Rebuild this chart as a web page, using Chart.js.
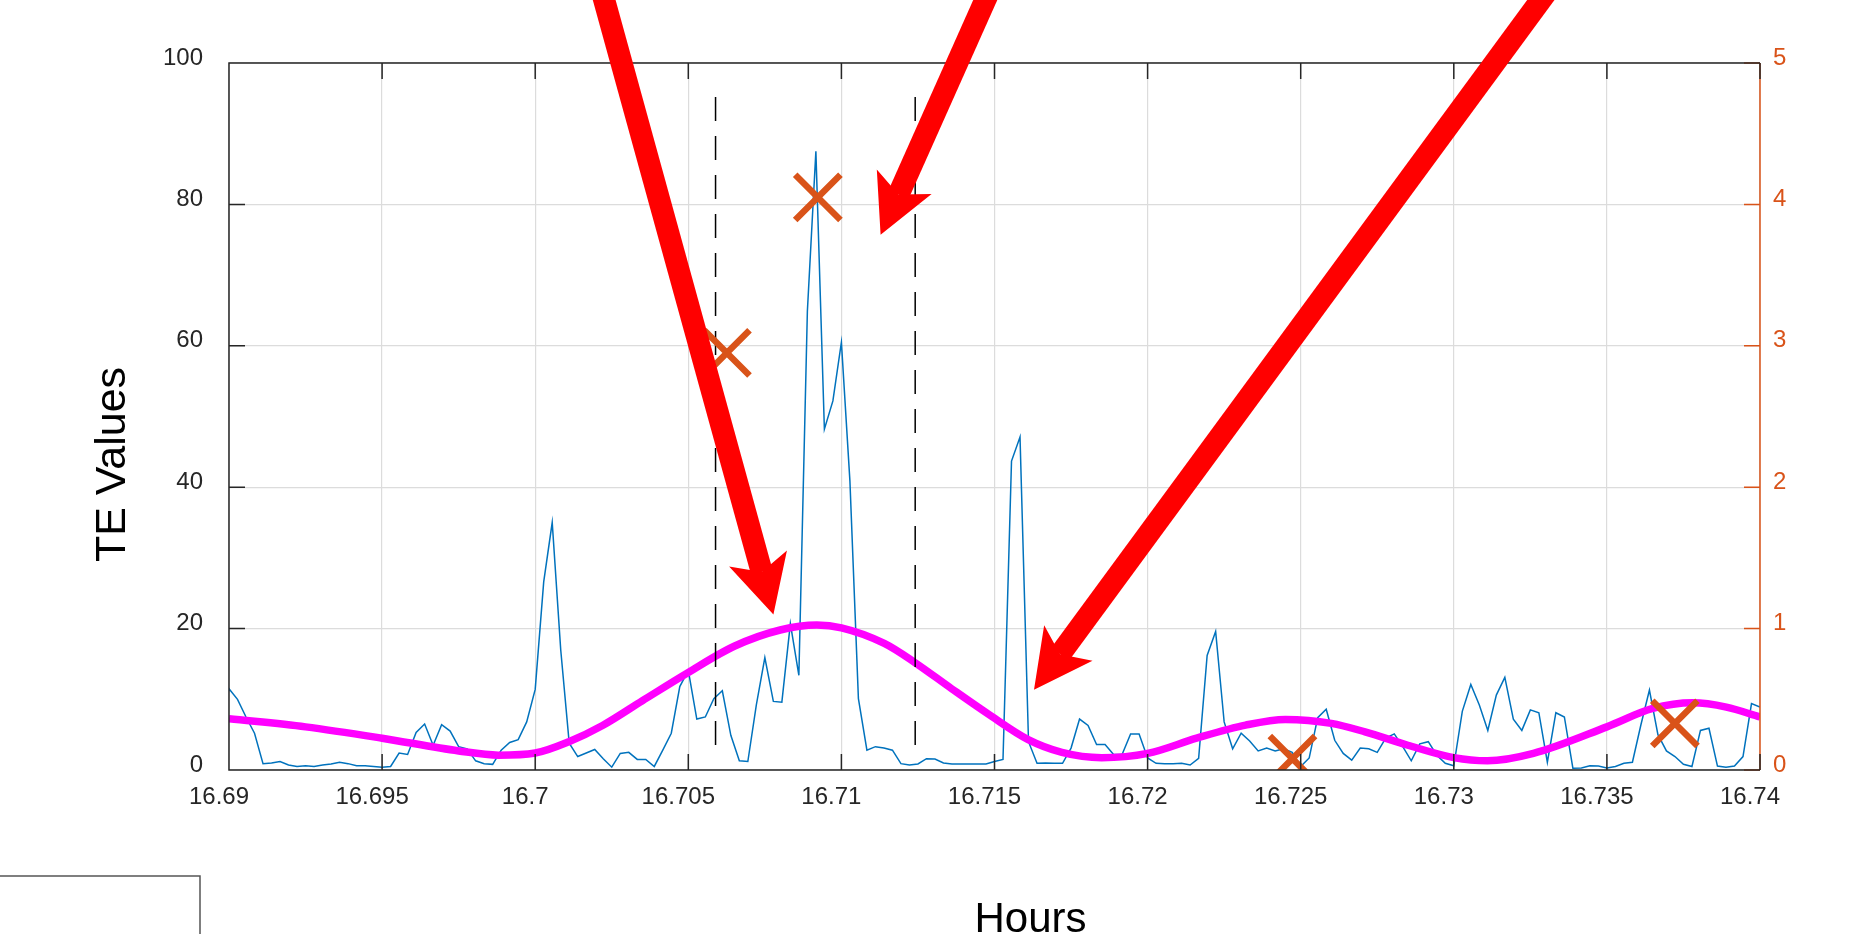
<!DOCTYPE html>
<html>
<head>
<meta charset="utf-8">
<script src="https://cdn.jsdelivr.net/npm/chart.js@4.4.1/dist/chart.umd.min.js"></script>
<style>
  html, body { margin: 0; padding: 0; background: #fff; }
</style>
</head>
<body>
<canvas id="js-te-chart" width="1866" height="934"></canvas>
<script>
// TE samples, one per second (first one sits just left of the axis)
const teStart = 16.69 - 1 / 3600;
const teStep = 1 / 3600;
const teValues = [5,
  11.5, 10.0, 7.5, 5.2, 0.9, 1.0, 1.2, 0.7, 0.5, 0.6,
  0.5, 0.7, 0.85, 1.1, 0.9, 0.6, 0.6, 0.5, 0.4, 0.5,
  2.4, 2.2, 5.3, 6.5, 3.5, 6.4, 5.5, 3.3, 3.0, 1.3,
  0.9, 0.8, 2.8, 3.9, 4.3, 6.8, 11.4, 26.6, 35.0, 17.0,
  3.8, 1.9, 2.4, 2.9, 1.6, 0.4, 2.35, 2.5, 1.5, 1.5,
  0.5, 2.8, 5.2, 11.8, 14.1, 7.2, 7.5, 10.1, 11.2, 4.9,
  1.3, 1.2, 9.2, 15.9, 9.7, 9.6, 20.7, 13.4, 64.9, 87.5,
  48.2, 52.2, 60.5, 40.9, 10.1, 2.8, 3.3, 3.1, 2.8, 0.9,
  0.7, 0.85, 1.6, 1.55, 1.0, 0.85, 0.85, 0.85, 0.85, 0.85,
  1.2, 1.5, 43.7, 47.1, 4.0, 0.95, 1.0, 0.95, 0.95, 3.1,
  7.2, 6.3, 3.6, 3.6, 2.2, 2.2, 5.1, 5.1, 1.7, 0.95,
  0.9, 0.9, 0.95, 0.7, 1.65, 16.2, 19.6, 6.8, 3.0, 5.2,
  4.1, 2.7, 3.1, 2.7, 3.0, 2.5, 0.5, 1.7, 7.4, 8.6,
  4.2, 2.35, 1.4, 3.1, 3.0, 2.5, 4.5, 5.1, 3.3, 1.3,
  3.7, 4.0, 2.1, 0.95, 0.6, 8.3, 12.1, 9.2, 5.6, 10.6,
  13.1, 7.2, 5.6, 8.5, 8.1, 1.1, 8.1, 7.5, 0.25, 0.3,
  0.6, 0.55, 0.3, 0.5, 0.95, 1.1, 6.4, 11.3, 5.0, 2.7,
  1.9, 0.8, 0.5, 5.6, 5.9, 0.55, 0.4, 0.55, 1.9, 9.4,
  8.9];

// smooth fitted curve (TE units)
const fitHours = [16.69, 16.6925, 16.695, 16.6975, 16.6988, 16.70, 16.7011, 16.7022,
  16.7035, 16.705, 16.7065, 16.708, 16.7092, 16.71, 16.7114, 16.7124, 16.7136,
  16.7148, 16.7161, 16.7172, 16.7185, 16.72, 16.7216, 16.7232, 16.7245, 16.726,
  16.7271, 16.7285, 16.73, 16.7311, 16.7326, 16.735, 16.7365, 16.7378, 16.7389, 16.74];
const fitValues = [7.25, 6.1, 4.5, 2.7, 2.1, 2.4, 4.0, 6.3,
  9.8, 13.8, 17.5, 19.8, 20.5, 20.1, 17.9, 15.2, 11.5,
  7.9, 4.3, 2.5, 1.75, 2.35, 4.5, 6.35, 7.15, 6.6,
  5.4, 3.5, 1.75, 1.3, 2.35, 6.1, 8.7, 9.5, 8.9, 7.5];

// marked events (right axis)
const eventHours = [16.70626, 16.70923, 16.72473, 16.73722];
const eventValues = [2.95, 4.05, 0.08, 0.33];

// dashed window bounds
const windowHours = [16.70589, 16.71241];
const windowRange = [95.2, 3];

// annotation arrows, [hours, TE] for tail and tip
const arrowTails = [[16.70198, 113.2], [16.71514, 113.2], [16.73357, 113.2]];
const arrowTips = [[16.70778, 22.0], [16.71128, 75.7], [16.71629, 11.35]];

// axes
const xTicks = [16.69, 16.695, 16.70, 16.705, 16.71, 16.715, 16.72, 16.725, 16.73, 16.735, 16.74];
const xTickLabels = ['16.69', '16.695', '16.7', '16.705', '16.71', '16.715', '16.72', '16.725', '16.73', '16.735', '16.74'];
const yTicks = [0, 20, 40, 60, 80, 100];
const y2Ticks = [0, 1, 2, 3, 4, 5];

const FONT = '"Liberation Sans", Arial, Helvetica, sans-serif';
const AXIS_DARK = '#262626';
const ORANGE = '#D95319';

// box + inward ticks, MATLAB style
const matlabBox = {
  id: 'matlabBox',
  afterDatasetsDraw(chart) {
    const { ctx, chartArea: a, scales } = chart;
    const len = 16;
    ctx.save();
    ctx.lineWidth = 1.5;
    ctx.strokeStyle = ORANGE;
    ctx.beginPath();
    ctx.moveTo(a.right, a.top);
    ctx.lineTo(a.right, a.bottom);
    y2Ticks.forEach((v) => {
      const p = scales.y2.getPixelForValue(v);
      ctx.moveTo(a.right, p);
      ctx.lineTo(a.right - len, p);
    });
    ctx.stroke();
    ctx.strokeStyle = AXIS_DARK;
    ctx.beginPath();
    ctx.moveTo(a.right, a.top);
    ctx.lineTo(a.left, a.top);
    ctx.lineTo(a.left, a.bottom);
    ctx.lineTo(a.right, a.bottom);
    yTicks.forEach((v) => {
      const p = scales.y.getPixelForValue(v);
      ctx.moveTo(a.left, p);
      ctx.lineTo(a.left + len, p);
    });
    xTicks.forEach((v) => {
      const p = scales.x.getPixelForValue(v);
      ctx.moveTo(p, a.bottom);
      ctx.lineTo(p, a.bottom - len);
      ctx.moveTo(p, a.top);
      ctx.lineTo(p, a.top + len);
    });
    ctx.stroke();
    ctx.restore();
  },
};

// red arrows, axis titles and the clipped legend frame
const extras = {
  id: 'extras',
  afterDraw(chart) {
    const { ctx, chartArea: a, scales } = chart;
    ctx.save();
    ctx.fillStyle = '#ff0000';
    ctx.strokeStyle = '#ff0000';
    arrowTails.forEach((tail, i) => {
      const x0 = scales.x.getPixelForValue(tail[0]);
      const y0 = scales.y.getPixelForValue(tail[1]);
      const x1 = scales.x.getPixelForValue(arrowTips[i][0]);
      const y1 = scales.y.getPixelForValue(arrowTips[i][1]);
      const d = Math.hypot(x1 - x0, y1 - y0);
      const ux = (x1 - x0) / d, uy = (y1 - y0) / d;
      const nx = -uy, ny = ux;
      const L = 58, W = 30, N = 44;
      ctx.lineWidth = 22;
      ctx.beginPath();
      ctx.moveTo(x0, y0);
      ctx.lineTo(x1 - N * ux, y1 - N * uy);
      ctx.stroke();
      ctx.beginPath();
      ctx.moveTo(x1, y1);
      ctx.lineTo(x1 - L * ux + W * nx, y1 - L * uy + W * ny);
      ctx.lineTo(x1 - N * ux, y1 - N * uy);
      ctx.lineTo(x1 - L * ux - W * nx, y1 - L * uy - W * ny);
      ctx.closePath();
      ctx.fill();
    });

    ctx.fillStyle = '#000';
    ctx.textAlign = 'center';
    ctx.textBaseline = 'alphabetic';
    ctx.font = '42px ' + FONT;
    ctx.fillText('Hours', (a.left + a.right) / 2 + 36, 932);
    ctx.font = '43px ' + FONT;
    ctx.translate(125, (a.top + a.bottom) / 2 + 48);
    ctx.rotate(-Math.PI / 2);
    ctx.fillText('TE Values', 0, 0);
    ctx.restore();

    ctx.save();
    ctx.strokeStyle = '#555';
    ctx.lineWidth = 1.5;
    ctx.strokeRect(-5, 876, 205, 80);
    ctx.restore();
  },
};

const teChartContext = document.getElementById('js-te-chart').getContext('2d');

new Chart(teChartContext, {
  type: 'line',
  data: {
    datasets: [
      {
        label: 'TE',
        data: teValues.map((v, i) => ({ x: teStart + i * teStep, y: v })),
        borderColor: '#0072BD',
        borderWidth: 1.5,
        pointRadius: 0,
        yAxisID: 'y',
        order: 5,
      },
      {
        label: 'Fit',
        data: fitHours.map((h, i) => ({ x: h, y: fitValues[i] })),
        borderColor: '#FF00FF',
        borderWidth: 7.5,
        cubicInterpolationMode: 'monotone',
        pointRadius: 0,
        yAxisID: 'y',
        order: 4,
      },
      ...windowHours.map((h) => ({
        label: 'Window',
        data: windowRange.map((v) => ({ x: h, y: v })),
        borderColor: '#000',
        borderWidth: 1.5,
        borderDash: [24, 15],
        pointRadius: 0,
        yAxisID: 'y',
        order: 3,
      })),
      {
        label: 'Events',
        data: eventHours.map((h, i) => ({ x: h, y: eventValues[i] })),
        showLine: false,
        pointStyle: 'crossRot',
        pointRadius: 32,
        pointBorderWidth: 6.5,
        borderColor: ORANGE,
        pointBorderColor: ORANGE,
        yAxisID: 'y2',
        clip: 0,
        order: 2,
      },
    ],
  },
  options: {
    responsive: false,
    devicePixelRatio: 1,
    animation: false,
    layout: { padding: { top: 63, left: 0, right: 0, bottom: 0 } },
    plugins: {
      legend: { display: false },
      tooltip: { enabled: false },
    },
    scales: {
      x: {
        type: 'linear',
        min: 16.69,
        max: 16.74,
        afterBuildTicks: (scale) => {
          scale.ticks = xTicks.map((v) => ({ value: v }));
        },
        afterFit: (scale) => { scale.height = 164; },
        ticks: {
          callback: (v, i) => xTickLabels[i],
          autoSkip: false,
          maxRotation: 0,
          padding: 13,
          labelOffset: -10,
          color: AXIS_DARK,
          font: { family: FONT, size: 24 },
        },
        grid: { color: '#dcdcdc', lineWidth: 1.2, drawTicks: false },
        border: { display: false },
      },
      y: {
        position: 'left',
        min: 0,
        max: 100,
        afterFit: (scale) => { scale.width = 229; },
        ticks: {
          stepSize: 20,
          padding: 26,
          labelOffset: -5,
          color: AXIS_DARK,
          font: { family: FONT, size: 24 },
        },
        grid: { color: '#dcdcdc', lineWidth: 1.2, drawTicks: false },
        border: { display: false },
      },
      y2: {
        position: 'right',
        min: 0,
        max: 5,
        afterFit: (scale) => { scale.width = 106; },
        ticks: {
          stepSize: 1,
          padding: 13,
          labelOffset: -5,
          color: ORANGE,
          font: { family: FONT, size: 24 },
        },
        grid: { display: false, drawTicks: false },
        border: { display: false },
      },
    },
  },
  plugins: [matlabBox, extras],
});
</script>
</body>
</html>
